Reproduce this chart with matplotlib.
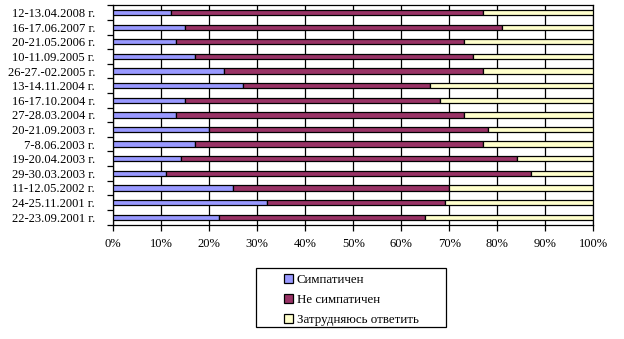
import matplotlib
matplotlib.use("Agg")
import matplotlib.pyplot as plt
import numpy as np
from matplotlib.patches import Rectangle

plt.rcParams["font.family"] = ["Liberation Serif", "DejaVu Serif"]

dates = [
    "12-13.04.2008 г.", "16-17.06.2007 г.", "20-21.05.2006 г.", "10-11.09.2005 г.",
    "26-27.-02.2005 г.", "13-14.11.2004 г.", "16-17.10.2004 г.", "27-28.03.2004 г.",
    "20-21.09.2003 г.", "7-8.06.2003 г.", "19-20.04.2003 г.", "29-30.03.2003 г.",
    "11-12.05.2002 г.", "24-25.11.2001 г.", "22-23.09.2001 г.",
]
like = [12, 15, 13, 17, 23, 27, 15, 13, 20, 17, 14, 11, 25, 32, 22]
dislike = [65, 66, 60, 58, 54, 39, 53, 60, 58, 60, 70, 76, 45, 37, 43]
unsure = [23, 19, 27, 25, 23, 34, 32, 27, 22, 23, 16, 13, 30, 31, 35]

series = [
    ("Симпатичен", like, "#9999FF"),
    ("Не симпатичен", dislike, "#993366"),
    ("Затрудняюсь ответить", unsure, "#FFFFCC"),
]

fig = plt.figure(figsize=(6.24, 3.39), dpi=100)
ax = fig.add_axes([113.3 / 624, 1 - 224.5 / 339, 480 / 624, 219.2 / 339])

y = np.arange(len(dates))
total = np.array(like) + np.array(dislike) + np.array(unsure)
left = np.zeros(len(dates))
for name, vals, color in series:
    pct = np.array(vals) / total * 100
    ax.barh(y, pct, left=left, height=0.36, color=color, edgecolor="black",
            linewidth=0.9, label=name, zorder=3)
    left += pct

ax.set_xlim(0, 100)
ax.set_ylim(len(dates) - 0.5, -0.5)
ax.set_xticks(np.arange(0, 101, 10))
ax.set_xticklabels([f"{v}%" for v in range(0, 101, 10)], fontsize=9)
ax.xaxis.grid(True, color="black", linewidth=0.9, zorder=0)
ax.tick_params(axis="x", direction="out", length=4, width=0.9, pad=6)

ax.set_yticks(np.arange(-0.5, len(dates), 1))
ax.set_yticklabels([])
ax.set_yticks(y, minor=True)
ax.set_yticklabels(dates, minor=True, fontsize=9)
ax.tick_params(axis="y", which="major", direction="out", length=4, width=0.9)
ax.tick_params(axis="y", which="minor", length=0, pad=13)

for s in ax.spines.values():
    s.set_linewidth(0.9)

handles, labels = ax.get_legend_handles_labels()
fig.patches.append(Rectangle((256 / 624, 1 - 327 / 339), 190 / 624, 59 / 339,
                             transform=fig.transFigure, fill=False,
                             edgecolor="black", linewidth=0.9))
fig.legend(handles, labels, loc="upper left", bbox_to_anchor=(275 / 624, 1 - 265 / 339),
           frameon=False, fontsize=9.3, handlelength=0.7, handleheight=0.7,
           handletextpad=0.3, labelspacing=0.62, borderpad=0.2)

fig.savefig("out.png", dpi=100)
